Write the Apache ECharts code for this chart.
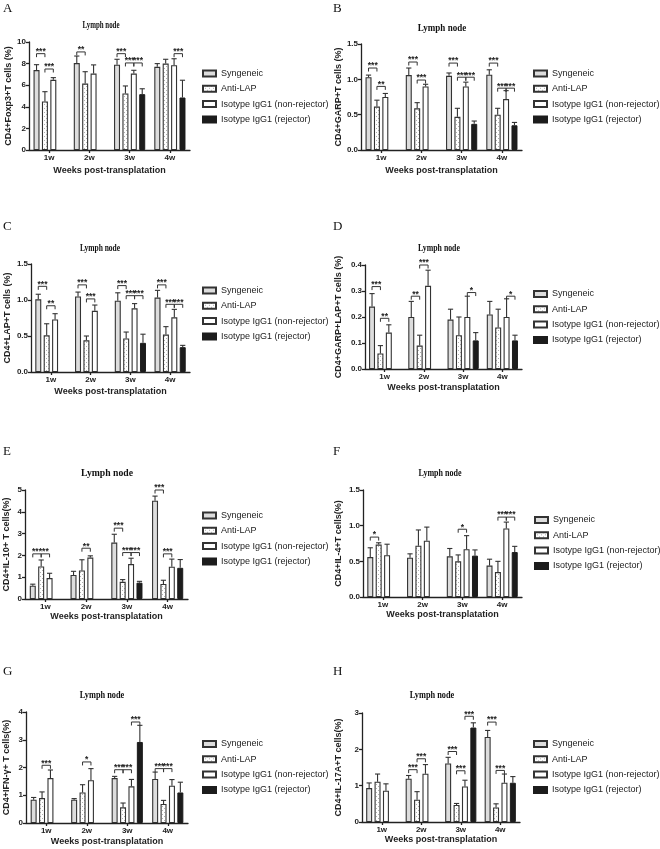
<!DOCTYPE html>
<html><head><meta charset="utf-8">
<script src="https://cdn.jsdelivr.net/npm/echarts@6/dist/echarts.min.js"></script>
<style>html,body{margin:0;padding:0;background:#fff}#c{width:660px;height:849px}</style>
</head><body><div id="c"></div>
<script>
// ---------------- DATA ----------------
const categories = ['1w', '2w', '3w', '4w'];
const groupNames = ['Syngeneic', 'Anti-LAP', 'Isotype IgG1 (non-rejector)', 'Isotype IgG1 (rejector)'];
const panelLetters = ['A', 'B', 'C', 'D', 'E', 'F', 'G', 'H'];
const panelTitle = 'Lymph node';
const xAxisTitle = 'Weeks post-transplatation';
const yAxisTitles = [
  'CD4+Foxp3+T cells (%)', 'CD4+GARP+T cells (%)', 'CD4+LAP+T cells (%)', 'CD4+GARP+LAP+T cells (%)',
  'CD4+IL-10+ T cells(%)', 'CD4+IL-4+T cells(%)', 'CD4+IFN-\u03b3+ T cells(%)', 'CD4+IL-17A+T cells(%)'
];
const yAxisMax = [10, 1.5, 1.5, 0.4, 5, 1.5, 4, 3];
const yAxisStep = [2, 0.5, 0.5, 0.1, 1, 0.5, 1, 1];
const yAxisDecimals = [0, 1, 1, 1, 0, 1, 0, 0];

// means: rows = groups (Syngeneic, Anti-LAP, non-rejector, rejector), columns = weeks
const meansA = [[7.4, 8.05, 7.9, 7.7], [4.5, 6.15, 5.23, 8.0], [6.5, 7.08, 7.08, 7.85], [null, null, 5.17, 4.86]];
const errsA  = [[0.5, 0.65, 0.5, 0.3], [0.9, 1.1, 0.7, 0.4], [0.2, 0.8, 0.3, 0.6], [null, null, 0.5, 1.6]];
const meansB = [[1.03, 1.06, 1.05, 1.065], [0.615, 0.59, 0.47, 0.5], [0.75, 0.9, 0.9, 0.72], [null, null, 0.37, 0.35]];
const errsB  = [[0.03, 0.1, 0.04, 0.07], [0.09, 0.08, 0.12, 0.09], [0.05, 0.03, 0.06, 0.12], [null, null, 0.04, 0.04]];
const meansC = [[1.01, 1.05, 0.99, 1.034], [0.51, 0.44, 0.465, 0.52], [0.73, 0.85, 0.885, 0.76], [null, null, 0.405, 0.345]];
const errsC  = [[0.07, 0.06, 0.11, 0.1], [0.16, 0.06, 0.09, 0.11], [0.08, 0.08, 0.065, 0.11], [null, null, 0.12, 0.025]];
const meansD = [[0.24, 0.2, 0.19, 0.21], [0.06, 0.09, 0.13, 0.16], [0.14, 0.32, 0.2, 0.2], [null, null, 0.11, 0.11]];
const errsD  = [[0.05, 0.06, 0.04, 0.05], [0.03, 0.04, 0.07, 0.07], [0.03, 0.06, 0.08, 0.07], [null, null, 0.03, 0.02]];
const meansE = [[0.61, 1.1, 2.59, 4.51], [1.49, 1.31, 0.79, 0.69], [0.96, 1.9, 1.6, 1.48], [null, null, 0.75, 1.43]];
const errsE  = [[0.07, 0.17, 0.38, 0.21], [0.3, 0.49, 0.1, 0.17], [0.22, 0.08, 0.27, 0.35], [null, null, 0.06, 0.38]];
const meansF = [[0.56, 0.55, 0.57, 0.44], [0.735, 0.72, 0.5, 0.35], [0.585, 0.79, 0.67, 0.96], [null, null, 0.58, 0.63]];
const errsF  = [[0.13, 0.055, 0.11, 0.09], [0.025, 0.22, 0.09, 0.15], [0.155, 0.19, 0.19, 0.09], [null, null, 0.08, 0.08]];
const meansG = [[0.84, 0.84, 1.62, 1.585], [0.9, 1.1, 0.565, 0.685], [1.62, 1.54, 1.32, 1.345], [null, null, 2.92, 1.1]];
const errsG  = [[0.08, 0.04, 0.06, 0.25], [0.22, 0.28, 0.155, 0.13], [0.29, 0.42, 0.25, 0.22], [null, null, 0.6, 0.37]];
const meansH = [[0.935, 1.19, 1.61, 2.34], [1.11, 0.615, 0.47, 0.4], [0.86, 1.33, 0.98, 1.08], [null, null, 2.6, 1.08]];
const errsH  = [[0.14, 0.09, 0.17, 0.18], [0.21, 0.22, 0.04, 0.1], [0.19, 0.25, 0.17, 0.24], [null, null, 0.13, 0.17]];

// significance brackets: [week index, from group, to group, bracket level (data units), label]
const sigA = [[0,0,1,8.92,'***'],[0,1,2,7.5,'***'],[1,0,1,9.08,'**'],[2,0,1,8.92,'***'],[2,1,2,8.06,'***'],[2,2,3,8.06,'***'],[3,2,3,8.92,'***']];
const sigB = [[0,0,1,1.16,'***'],[0,1,2,0.9,'**'],[1,0,1,1.245,'***'],[1,1,2,0.99,'***'],[2,0,1,1.23,'***'],[2,1,2,1.03,'***'],[2,2,3,1.03,'***'],[3,0,1,1.23,'***'],[3,1,2,0.875,'***'],[3,2,3,0.875,'***']];
const sigC = [[0,0,1,1.19,'***'],[0,1,2,0.92,'**'],[1,0,1,1.21,'***'],[1,1,2,1.015,'***'],[2,0,1,1.2,'***'],[2,1,2,1.06,'***'],[2,2,3,1.06,'***'],[3,0,1,1.21,'***'],[3,1,2,0.94,'***'],[3,2,3,0.94,'***']];
const sigD = [[0,0,1,0.317,'***'],[0,1,2,0.195,'**'],[1,0,1,0.28,'**'],[1,1,2,0.4,'***'],[2,2,3,0.294,'*'],[3,2,3,0.28,'*']];
const sigE = [[0,0,1,2.07,'***'],[0,1,2,2.07,'**'],[1,1,2,2.33,'**'],[2,0,1,3.25,'***'],[2,1,2,2.13,'***'],[2,2,3,2.13,'***'],[3,0,1,5.0,'***'],[3,1,2,2.07,'***']];
const sigF = [[0,0,1,0.84,'*'],[2,1,2,0.95,'*'],[3,1,2,1.12,'***'],[3,2,3,1.12,'***']];
const sigG = [[0,1,2,2.08,'***'],[1,1,2,2.2,'*'],[2,0,1,1.92,'***'],[2,1,2,1.92,'***'],[2,2,3,3.64,'***'],[3,0,1,1.96,'***'],[3,1,2,1.96,'***']];
const sigH = [[1,0,1,1.44,'***'],[1,1,2,1.74,'***'],[2,0,1,1.94,'***'],[2,1,2,1.41,'***'],[2,2,3,2.91,'***'],[3,0,1,2.75,'***'],[3,1,2,1.42,'***']];

const allMeans = [meansA, meansB, meansC, meansD, meansE, meansF, meansG, meansH];
const allErrs = [errsA, errsB, errsC, errsD, errsE, errsF, errsG, errsH];
const allSigs = [sigA, sigB, sigC, sigD, sigE, sigF, sigG, sigH];

// ---------------- LAYOUT / STYLE ----------------
const SANS = 'Liberation Sans, Arial, sans-serif';
const SERIF = 'Liberation Serif, Times New Roman, serif';
const INK = '#222';
const BAR_W = 6, BAR_GAP = 0.4;
const PITCH = BAR_W * (1 + BAR_GAP);
const layout = [
  {grid:[29,42,161,108],  legend:[202,69],    title:[101,25.5,10,0.69], letter:[3,9],     yGap:15.5, xGap:16.5},
  {grid:[361,44,161,106], legend:[533,69],    title:[442,28,10,0.9],    letter:[333,9],   yGap:18,   xGap:16.5},
  {grid:[31,264,159,108], legend:[202,286],   title:[100,248,10,0.75],  letter:[3,226.5], yGap:19,   xGap:15.5},
  {grid:[365,265,157,104],legend:[533,289.5], title:[439,248,10,0.78],  letter:[333,226.5],yGap:22,  xGap:14.5},
  {grid:[25,490,163,109], legend:[202,511],   title:[107,473,10,0.97],  letter:[3,451.5], yGap:14,   xGap:13.5},
  {grid:[363,490,159,107],legend:[534,515.5], title:[440,473,10,0.8],   letter:[333,451.5],yGap:20,  xGap:11.5},
  {grid:[26,712,162,111], legend:[202,739.5], title:[102,695,10,0.83],  letter:[3,672],   yGap:15,   xGap:14.5},
  {grid:[362,713,158,109],legend:[533,739.5], title:[432,695,10,0.83],  letter:[333,672], yGap:19,   xGap:12.5}
];

// dotted pattern for Anti-LAP
const pat = document.createElement('canvas');
pat.width = 4; pat.height = 4;
const pctx = pat.getContext('2d');
pctx.fillStyle = '#ffffff'; pctx.fillRect(0, 0, 4, 4);
pctx.fillStyle = '#b0b0b0'; pctx.fillRect(0, 0, 1, 1); pctx.fillRect(2, 2, 1, 1);

const groupStyles = [
  {color: '#dddddd', borderColor: '#333', borderWidth: 1.1},
  {color: {image: pat, repeat: 'repeat'}, borderColor: '#333', borderWidth: 1.1},
  {color: '#ffffff', borderColor: '#333', borderWidth: 1.1},
  {color: '#1c1c1c', borderColor: '#1c1c1c', borderWidth: 1}
];

const grids = [], xAxes = [], yAxes = [], series = [], legends = [], graphics = [];

for (let p = 0; p < 8; p++) {
  const L = layout[p];
  grids.push({left: L.grid[0], top: L.grid[1], width: L.grid[2], height: L.grid[3], containLabel: false, outerBoundsMode: 'none'});
  xAxes.push({
    type: 'category', gridIndex: p, data: categories, boundaryGap: true,
    axisLine: {show: true, lineStyle: {color: INK, width: 1.3}},
    axisTick: {show: true, alignWithLabel: true, length: 3, lineStyle: {color: INK, width: 1.3}},
    axisLabel: {margin: 4, fontSize: 8, fontWeight: 'bold', color: INK, fontFamily: SANS},
    splitLine: {show: false},
    name: xAxisTitle, nameLocation: 'middle', nameGap: L.xGap,
    nameTextStyle: {fontSize: 9, fontWeight: 'bold', color: INK, fontFamily: SANS}
  });
  const dec = yAxisDecimals[p];
  yAxes.push({
    type: 'value', gridIndex: p, min: 0, max: yAxisMax[p], interval: yAxisStep[p],
    axisLine: {show: true, lineStyle: {color: INK, width: 1.3}},
    axisTick: {show: true, length: 3, lineStyle: {color: INK, width: 1.3}},
    axisLabel: {margin: 3, fontSize: 8, fontWeight: 'bold', color: INK, fontFamily: SANS,
      formatter: v => Number(v).toFixed(dec)},
    splitLine: {show: false},
    name: yAxisTitles[p], nameLocation: 'middle', nameGap: L.yGap, nameRotate: 90,
    nameTextStyle: {fontSize: 9, fontWeight: 'bold', color: INK, fontFamily: SANS}
  });
  for (let g = 0; g < 4; g++) {
    series.push({
      type: 'bar', name: groupNames[g], xAxisIndex: p, yAxisIndex: p,
      data: allMeans[p][g].map(v => v === null ? '-' : v),
      barWidth: BAR_W, barGap: (BAR_GAP * 100) + '%',
      itemStyle: groupStyles[g], emphasis: {disabled: true}, animation: false, silent: true
    });
  }
  // error bars
  const ebData = [];
  for (let g = 0; g < 4; g++) {
    for (let w = 0; w < categories.length; w++) {
      const m = allMeans[p][g][w], e = allErrs[p][g][w];
      if (m !== null && e !== null) ebData.push([w, g, m, e]);
    }
  }
  series.push({
    type: 'custom', xAxisIndex: p, yAxisIndex: p, data: ebData, z: 5, silent: true, animation: false,
    renderItem: function (params, api) {
      const w = api.value(0), g = api.value(1), m = api.value(2), e = api.value(3);
      const p0 = api.coord([w, m]), p1 = api.coord([w, m + e]);
      const x = p0[0] + (g - 1.5) * PITCH;
      const st = {stroke: '#333', lineWidth: 1.1, fill: null};
      return {type: 'group', children: [
        {type: 'line', shape: {x1: x, y1: p0[1], x2: x, y2: p1[1]}, style: st},
        {type: 'line', shape: {x1: x - 2.6, y1: p1[1], x2: x + 2.6, y2: p1[1]}, style: st}
      ]};
    }
  });
  // significance brackets
  const sigs = allSigs[p];
  series.push({
    type: 'custom', xAxisIndex: p, yAxisIndex: p, data: sigs.map(s => [s[0], s[3]]), z: 6, silent: true,
    animation: false, clip: false,
    renderItem: function (params, api) {
      const s = sigs[params.dataIndex];
      const c = api.coord([s[0], s[3]]);
      const x1 = c[0] + (s[1] - 1.5) * PITCH, x2 = c[0] + (s[2] - 1.5) * PITCH, y = c[1];
      return {type: 'group', children: [
        {type: 'polyline', shape: {points: [[x1, y + 3.5], [x1, y], [x2, y], [x2, y + 3.5]]},
          style: {stroke: '#333', lineWidth: 1, fill: null}},
        {type: 'text', x: (x1 + x2) / 2, y: y + 2.5,
          style: {text: s[4], fontSize: 8.5, fontWeight: 'bold', fontFamily: SANS, fill: INK,
            align: 'center', verticalAlign: 'bottom', textAlign: 'center', textVerticalAlign: 'bottom'}}
      ]};
    }
  });
  legends.push({
    orient: 'vertical', left: L.legend[0], top: L.legend[1], data: groupNames,
    itemWidth: 13, itemHeight: 6, itemGap: 6.3, icon: 'rect', selectedMode: false, padding: 0,
    textStyle: {fontSize: 9, color: INK, fontFamily: SANS}
  });
  graphics.push({
    type: 'text', x: L.title[0], y: L.title[1], scaleX: L.title[3], silent: true,
    style: {text: panelTitle, fontSize: L.title[2], fontWeight: 'bold', fontFamily: SERIF, fill: '#111',
      align: 'center', verticalAlign: 'middle', textAlign: 'center', textVerticalAlign: 'middle'}
  });
  graphics.push({
    type: 'text', x: L.letter[0], y: L.letter[1], silent: true,
    style: {text: panelLetters[p], fontSize: 13, fontFamily: SERIF, fill: '#111',
      align: 'left', verticalAlign: 'middle', textAlign: 'left', textVerticalAlign: 'middle'}
  });
}

const chart = echarts.init(document.getElementById('c'), null, {renderer: 'canvas'});
chart.setOption({
  backgroundColor: '#ffffff',
  animation: false,
  grid: grids, xAxis: xAxes, yAxis: yAxes, legend: legends, series: series,
  graphic: {elements: graphics}
});
</script>
</body></html>
